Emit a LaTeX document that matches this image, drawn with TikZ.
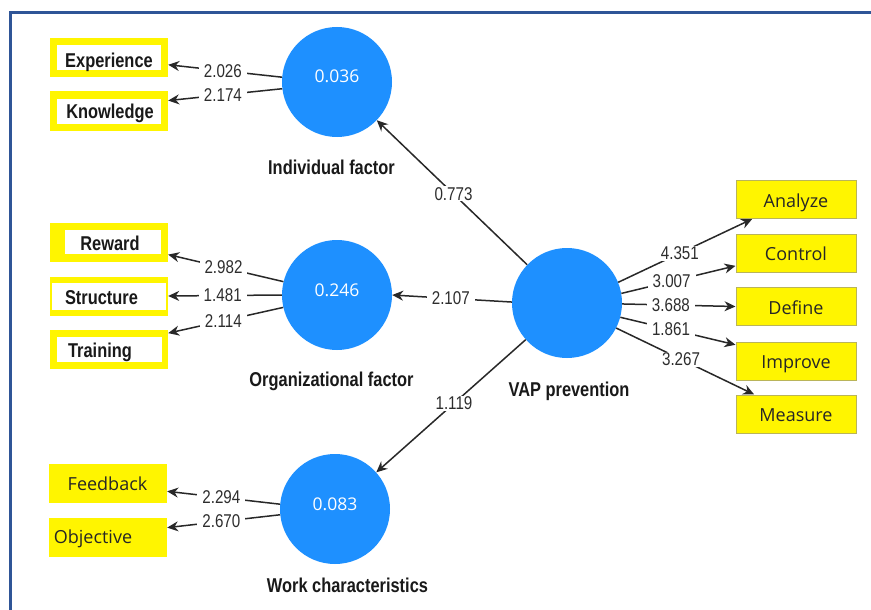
\documentclass[tikz,border=0pt]{standalone}
\usepackage{fontspec}
\usetikzlibrary{arrows.meta}
\newfontfamily\narf[FakeStretch=0.82]{Liberation Sans}
\newfontfamily\segf{Open Sans}
\definecolor{frameblue}{RGB}{47,85,151}
\definecolor{circblue}{RGB}{30,144,255}
\definecolor{ylw}{RGB}{255,245,0}
\definecolor{ybord}{RGB}{185,180,90}
\definecolor{edgegray}{RGB}{40,40,40}
\definecolor{numgray}{RGB}{45,45,45}
\begin{document}
\begin{tikzpicture}[x=1pt,y=-1pt,
  latent/.style={circle, fill=circblue, minimum size=110pt, inner sep=0pt,
    font=\segf\fontsize{17.5pt}{19pt}\selectfont, text=white, text height=12pt, text depth=10pt},
  ybox/.style={rectangle, fill=ylw, minimum width=118pt, minimum height=39pt, inner sep=0pt},
  rbox/.style={rectangle, fill=ylw, draw=ybord, line width=1pt, minimum width=120pt, minimum height=38pt,
    inner sep=0pt, font=\segf\fontsize{18pt}{20pt}\selectfont, text=black!85, text height=17pt, text depth=2pt},
  btxt/.style={font=\narf\bfseries\fontsize{20pt}{22pt}\selectfont, text=black!90, inner sep=0pt, anchor=base},
  stxt/.style={font=\segf\fontsize{18pt}{20pt}\selectfont, text=black!85, inner sep=0pt, anchor=base},
  num/.style={font=\narf\fontsize{18.5pt}{20pt}\selectfont, text=numgray, fill=white, inner xsep=5pt, inner ysep=1pt},
  link/.style={draw=edgegray, line width=1.5pt, -{Stealth[length=11pt,width=10pt]}},
]
\useasboundingbox (0,0) rectangle (871,610);
\fill[white] (0,0) rectangle (871,610);
\draw[frameblue, line width=3pt] (10,610) -- (10,13) -- (871,13);

% latent variables
\node[latent] (ind) at (337,82) {0.036};
\node[latent] (org) at (337,295) {0.246};
\node[latent] (wrk) at (335,509) {0.083};
\node[latent] (vap) at (567,303) {};

\node[btxt] (indc) at (331.5,174) {Individual factor};
\node[btxt] (orgc) at (331.5,386) {Organizational factor};
\node[btxt] (wrkc) at (347.5,592) {Work characteristics};
\node[btxt] (vapc) at (569,396) {VAP prevention};

% left indicators
\node[ybox] (exp) at (109,57.5) {};
\node[ybox] (kno) at (109,111) {};
\node[ybox] (rew) at (109,242) {};
\node[ybox] (str) at (109,296) {};
\node[ybox] (tra) at (109,349) {};
\node[ybox] (fee) at (108,483) {};
\node[ybox] (obj) at (108,537) {};
\fill[white] (57,45) rectangle (161,70);
\fill[white] (57,99) rectangle (161,124);
\fill[white] (65,230) rectangle (161,254);
\fill[white] (52,283) rectangle (166,310);
\fill[white] (57,337) rectangle (162,362);
\node[btxt] (expt) at (109,67) {Experience};
\node[btxt] (knot) at (110,118) {Knowledge};
\node[btxt] (rewt) at (110,250) {Reward};
\node[btxt] (strt) at (101.5,304) {Structure};
\node[btxt] (trat) at (100,357) {Training};
\node[stxt] (feet) at (107.5,490) {Feedback};
\node[stxt] (objt) at (93,543) {Objective};

% right indicators
\node[rbox] (ana) at (796,199.5) {Analyze};
\node[rbox] (con) at (796,253) {Control};
\node[rbox] (def) at (796,306.5) {Define};
\node[rbox] (imp) at (796,361) {Improve};
\node[rbox] (mea) at (796,414) {Measure};

% outer loadings
\draw[link] (ind.175) -- node[num,pos=0.52]{2.026} (exp.-7);
\draw[link] (ind.187) -- node[num,pos=0.52]{2.174} (kno.10);
\draw[link] (org.166) -- node[num,pos=0.52]{2.982} (rew.-12);
\draw[link] (org.180) -- node[num,pos=0.52]{1.481} (str.east);
\draw[link] (org.193) -- node[num,pos=0.52]{2.114} (tra.15);
\draw[link] (wrk.175) -- node[num,pos=0.52]{2.294} (fee.-8);
\draw[link] (wrk.186) -- node[num,pos=0.52]{2.670} (obj.9);

% inner paths
\draw[link] (vap) -- node[num,pos=0.49]{0.773} (ind);
\draw[link] (vap.179) -- node[num,pos=0.51]{2.107} (org.east);
\draw[link] (vap) -- node[num,pos=0.48]{1.119} (wrk);

\draw[link] (vap.22) -- node[num,pos=0.46]{4.351} (ana.204);
\draw[link] (vap.10) -- node[num,pos=0.44]{3.007} (con.192);
\draw[link] (vap.-1) -- node[num,pos=0.43]{3.688} (def.west);
\draw[link] (vap.-15) -- node[num,pos=0.44]{1.861} (imp.165);
\draw[link] (vap.-27) -- node[num,pos=0.47]{3.267} (mea.155);
\end{tikzpicture}
\end{document}
